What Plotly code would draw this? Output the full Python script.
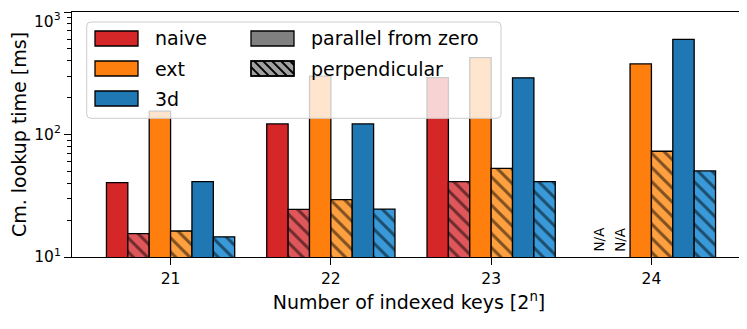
import plotly.graph_objects as go

# data (lookup time in ms)
sizes = [21, 22, 23, 24]
naive_par = [40.4, 122, 291, None]
naive_perp = [15.5, 24.5, 41.2, None]
ext_par = [155, 300, 424, 377]
ext_perp = [16.3, 29.4, 53, 73]
d3_par = [41.2, 122, 290, 598]
d3_perp = [14.6, 24.6, 41.2, 50.4]
y_ticks = [10, 100, 1000]
y_ticktext = ["10<sup>1</sup>", "10<sup>2</sup>", "10<sup>3</sup>"]

# page body adds an 8px margin, so the figure is sized to fit the window
OFF = 8
W, H = 747 - OFF, 329 - OFF
L, R, T, B = 72 - OFF, 1, 12 - OFF, 72
FONT = "DejaVu Sans"

RED, ORANGE, BLUE = "#d62728", "#ff7f0e", "#1f77b4"
RED_L, ORANGE_L, BLUE_L = "#e0575b", "#ffa040", "#3a9ad9"

series = [
    ("naive", naive_par, RED, None),
    ("naive perp", naive_perp, RED_L, "\\"),
    ("ext", ext_par, ORANGE, None),
    ("ext perp", ext_perp, ORANGE_L, "\\"),
    ("3d", d3_par, BLUE, None),
    ("3d perp", d3_perp, BLUE_L, "\\"),
]

fig = go.Figure()
for name, vals, color, hatch in series:
    marker = dict(color=color, line=dict(color="black", width=1.3))
    if hatch:
        marker["pattern"] = dict(shape=hatch, fgcolor="black", bgcolor=color,
                                 size=10, solidity=0.3)
    fig.add_trace(go.Bar(x=sizes, y=vals, name=name, marker=marker,
                         showlegend=False))

# N/A labels for the missing naive bars at 2^24
bw = 0.8 / len(series)
for i in range(2):
    fig.add_annotation(x=24 + (i - 2.5) * bw, y=1, xref="x", yref="y",
                       text="N/A", textangle=-90, showarrow=False,
                       yanchor="bottom", yshift=3,
                       font=dict(family=FONT, size=13.5, color="black"))

# the top tick label would be cut by the page edge, so it is drawn separately
fig.add_annotation(x=0, y=1, xref="paper", yref="paper", text=y_ticktext[-1],
                   showarrow=False, xanchor="right", yanchor="top",
                   xshift=-9, yshift=T, font=dict(family=FONT, size=15.5, color="black"))

# hand-drawn legend (matplotlib style, two columns); positions in window px
pw, ph = W - L - R, H - T - B


def px(x):
    return (x - OFF - L) / pw


def py(y):
    return (H - B - (y - OFF)) / ph


def rounded(x0, y0, x1, y1, r):
    pts = [
        f"M {px(x0 + r)} {py(y0)}", f"L {px(x1 - r)} {py(y0)}",
        f"Q {px(x1)} {py(y0)} {px(x1)} {py(y0 + r)}", f"L {px(x1)} {py(y1 - r)}",
        f"Q {px(x1)} {py(y1)} {px(x1 - r)} {py(y1)}", f"L {px(x0 + r)} {py(y1)}",
        f"Q {px(x0)} {py(y1)} {px(x0)} {py(y1 - r)}", f"L {px(x0)} {py(y0 + r)}",
        f"Q {px(x0)} {py(y0)} {px(x0 + r)} {py(y0)}", "Z",
    ]
    return " ".join(pts)


fig.add_shape(type="path", path=rounded(86.7, 22, 501, 118.3, 4),
              xref="paper", yref="paper", layer="above",
              fillcolor="rgba(255,255,255,0.8)", line=dict(color="#cccccc", width=1))

legend_items = [
    ("naive", RED, False, 95, 31),
    ("ext", ORANGE, False, 95, 61),
    ("3d", BLUE, False, 95, 91),
    ("parallel from zero", "#808080", False, 251, 31),
    ("perpendicular", "#a0a0a0", True, 251, 61),
]
sw_w, sw_h = 43, 15
for label, color, hatch, x0, y0 in legend_items:
    fig.add_shape(type="rect", xref="paper", yref="paper", layer="above",
                  x0=px(x0), x1=px(x0 + sw_w), y0=py(y0), y1=py(y0 + sw_h),
                  fillcolor=color, line=dict(color="black", width=1.3))
    if hatch:
        step = 9
        s = x0 - sw_h
        while s < x0 + sw_w:
            # "\" line from (s, top) to (s + sw_h, bottom), clipped to swatch
            ax, ay, bx, by = s, y0, s + sw_h, y0 + sw_h
            if ax < x0:
                ay += x0 - ax
                ax = x0
            if bx > x0 + sw_w:
                by -= bx - (x0 + sw_w)
                bx = x0 + sw_w
            if bx > ax:
                fig.add_shape(type="line", xref="paper", yref="paper", layer="above",
                              x0=px(ax), y0=py(ay), x1=px(bx), y1=py(by),
                              line=dict(color="black", width=1.8))
            s += step
        fig.add_shape(type="rect", xref="paper", yref="paper", layer="above",
                      x0=px(x0), x1=px(x0 + sw_w), y0=py(y0), y1=py(y0 + sw_h),
                      line=dict(color="black", width=1.3))
    fig.add_annotation(x=px(x0 + sw_w + 15), y=py(y0 + sw_h / 2),
                       xref="paper", yref="paper", text=label, showarrow=False,
                       xanchor="left", yanchor="middle",
                       font=dict(family=FONT, size=19, color="black"))

fig.update_layout(
    width=W, height=H,
    margin=dict(l=L, r=R, t=T, b=B, autoexpand=False),
    plot_bgcolor="white", paper_bgcolor="white",
    barmode="group", bargap=0.2, bargroupgap=0,
    font=dict(family=FONT, size=15.5, color="black"),
    showlegend=False,
)
fig.update_xaxes(
    range=[20.385, 24.59], tickvals=sizes, ticktext=[str(s) for s in sizes],
    ticks="outside", ticklen=7, tickwidth=1.2, tickcolor="black",
    showline=True, mirror=True, linecolor="black", linewidth=1.2,
    showgrid=False, zeroline=False, automargin=False,
    title=dict(text="Number of indexed keys [2<sup>n</sup>]",
               font=dict(size=19), standoff=8),
)
fig.update_yaxes(
    type="log", range=[1, 3],
    tickvals=y_ticks,
    ticktext=y_ticktext[:-1] + [""],
    ticks="outside", ticklen=7, tickwidth=1.2, tickcolor="black",
    minor=dict(ticks="outside", ticklen=4, tickwidth=1, tickcolor="black",
               tickvals=[20, 30, 40, 50, 60, 70, 80, 90,
                         200, 300, 400, 500, 600, 700, 800, 900],
               showgrid=False),
    showline=True, mirror=True, linecolor="black", linewidth=1.2,
    showgrid=False, zeroline=False, automargin=False,
    title=dict(text="Cm. lookup time [ms]", font=dict(size=19), standoff=8),
)

fig.write_html("out.html")
